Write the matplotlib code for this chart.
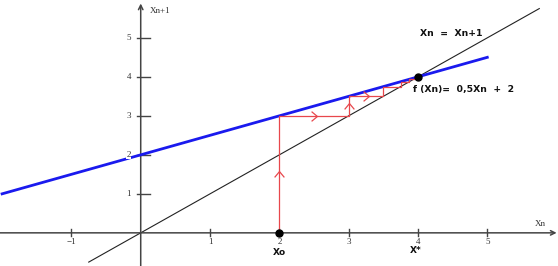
import matplotlib
matplotlib.use("Agg")
import matplotlib.pyplot as plt
import numpy as np
from matplotlib.path import Path

# data
slope = 0.5
intercept = 2.0
blue_x = [-2.0, 5.0]
diag_x = [-0.75, 5.75]
cobweb_x = [2.0, 3.0, 3.5, 3.75, 3.875]
fixed_point = (4.0, 4.0)
x0_point = (2.0, 0.0)
xticks = [-1, 1, 2, 3, 4, 5]
yticks = [1, 2, 3, 4, 5]
up_arrows = [(2.0, 1.5), (3.0, 3.25)]
right_arrows = [(2.5, 3.0), (3.25, 3.5)]

fig = plt.figure(figsize=(5.58, 2.66), dpi=100)
ax = fig.add_axes([0, 0, 1, 1])
ax.set_xlim(-2.03, 6.02)
ax.set_ylim(-0.85, 5.97)
ax.axis("off")

axcol = "#444444"
# axes with arrows
ax.annotate("", xy=(6.0, 0), xytext=(-2.03, 0),
            arrowprops=dict(arrowstyle="->", color=axcol, lw=1.1, shrinkA=0, shrinkB=0, mutation_scale=8))
ax.annotate("", xy=(0, 5.88), xytext=(0, -0.85),
            arrowprops=dict(arrowstyle="->", color=axcol, lw=1.1, shrinkA=0, shrinkB=0, mutation_scale=8))

# ticks
for t in xticks:
    ax.plot([t, t], [-0.09, 0.09], color=axcol, lw=1.0)
    ax.text(t, -0.13, ("\u2212" + str(abs(t))) if t < 0 else str(t), ha="center", va="top",
            fontsize=6.5, family="Liberation Serif", color="#333333")
for t in yticks:
    ax.plot([-0.05, 0.13], [t, t], color=axcol, lw=1.0)
    ax.text(-0.14, t, str(t), ha="right", va="center", fontsize=6.5, family="Liberation Serif",
            color="#333333", zorder=5,
            bbox=dict(facecolor="white", edgecolor="none", pad=0.2) if t == 2 else None)

# diagonal
dx = np.array(diag_x)
ax.plot(dx, dx, color="#222222", lw=0.8, zorder=2)

# blue f line
bx = np.array(blue_x)
ax.plot(bx, slope * bx + intercept, color="#1a1aee", lw=2.0, zorder=3)

# cobweb
px, py = [cobweb_x[0]], [0.0]
for x in cobweb_x:
    y = slope * x + intercept
    px += [x, y]
    py += [y, y]
ax.plot(px, py, color="#e8474c", lw=0.9, zorder=4)

chev_up = Path([(-1, -0.6), (0, 0.6), (1, -0.6)], [Path.MOVETO, Path.LINETO, Path.LINETO])
chev_right = Path([(-0.6, 1), (0.6, 0), (-0.6, -1)], [Path.MOVETO, Path.LINETO, Path.LINETO])
for (x, y) in up_arrows:
    ax.plot([x], [y], marker=chev_up, ms=7, mfc="none", mec="#e8474c", mew=0.9, zorder=4)
for (x, y) in right_arrows:
    ax.plot([x], [y], marker=chev_right, ms=7, mfc="none", mec="#e8474c", mew=0.9, zorder=4)

# points
ax.plot(*fixed_point, "o", color="black", ms=5, zorder=6)
ax.plot(*x0_point, "o", color="black", ms=5, zorder=6)

# labels
ax.text(0.13, 5.7, "Xn+1", fontsize=6.5, family="Liberation Serif", color="#333333", va="center")
ax.text(5.69, 0.23, "Xn", fontsize=6.5, family="Liberation Serif", color="#333333", va="center")
ax.text(4.03, 5.1, "Xn  =  Xn+1", fontsize=6.7, family="DejaVu Sans", color="#111111",
        va="center", fontweight="bold")
ax.text(3.93, 3.68, "f (Xn)=  0,5Xn  +  2", fontsize=6.7, family="DejaVu Sans", color="#111111",
        va="center", fontweight="bold")
ax.text(2.0, -0.5, "Xo", fontsize=6.5, family="DejaVu Sans", color="#111111", ha="center",
        va="center", fontweight="bold")
ax.text(3.97, -0.45, "X*", fontsize=6.5, family="DejaVu Sans", color="#111111", ha="center",
        va="center", fontweight="bold")

fig.savefig("out.png", dpi=100)
